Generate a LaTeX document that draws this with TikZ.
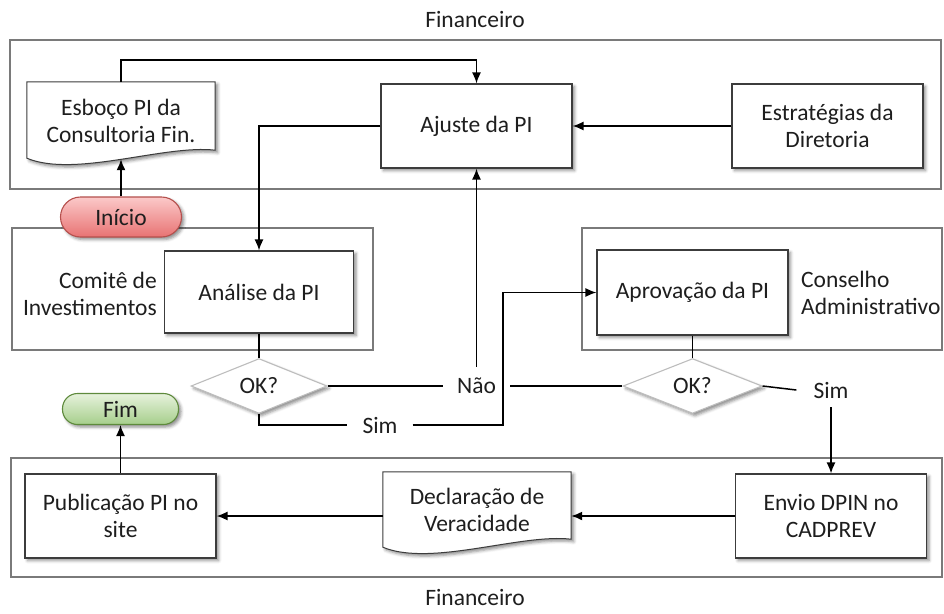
\documentclass[tikz,border=0pt]{standalone}
\usepackage{fontspec}
\setmainfont{Carlito}
\usetikzlibrary{arrows.meta,shapes.geometric,shadows.blur,calc}
\definecolor{lanecol}{HTML}{7A7A7A}
\definecolor{boxcol}{HTML}{3C3C3C}
\definecolor{diacol}{HTML}{BDBDBD}
\definecolor{txtcol}{HTML}{1E1E1E}
\definecolor{startfillA}{HTML}{FBC9C9}
\definecolor{startfillB}{HTML}{E87373}
\definecolor{startline}{HTML}{B5504D}
\definecolor{endfillA}{HTML}{E6F2DC}
\definecolor{endfillB}{HTML}{A6CE8B}
\definecolor{endline}{HTML}{5E8A3C}

% document outline with a wavy bottom edge around a named node
\newcommand{\docoutline}[1]{%
  \path[draw=boxcol, line width=1pt, fill=white, softshadow]
    (#1.north west) -- (#1.north east)
    -- ($(#1.south east)+(0,-9)$)
    .. controls ($(#1.south east)+(-50,-15)$) and ($(#1.south west)+(48,19)$) ..
    ($(#1.south west)+(0,-1)$) -- cycle;}

\begin{document}
\begin{tikzpicture}[x=1pt, y=-1pt,
  font=\fontsize{23.5}{27}\selectfont, text=txtcol,
  softshadow/.style={blur shadow={shadow xshift=2.5pt, shadow yshift=-2.5pt,
      shadow blur radius=3pt, shadow opacity=45}},
  lane/.style={draw=lanecol, line width=1.3pt},
  procbox/.style={draw=boxcol, line width=1.1pt, fill=white, align=center,
      inner sep=2pt, minimum width=191pt, minimum height=84pt, softshadow},
  docbox/.style={align=center, inner sep=2pt, minimum width=188pt},
  decision/.style={diamond, draw=diacol, line width=1.1pt, fill=white,
      inner sep=0pt, softshadow},
  terminal/.style={rectangle, line width=1.1pt, align=center, inner sep=0pt},
  lanelabel/.style={align=center, inner sep=0pt},
  flowlabel/.style={inner xsep=14pt, inner ysep=11pt},
  arr/.style={draw=black, line width=1.5pt, -{Latex[length=11pt,width=9pt]}},
  link/.style={draw=black, line width=1.5pt}]

\useasboundingbox (0,0) rectangle (944,613);

% swimlanes
\draw[lane] (10,40) rectangle (941,189);
\draw[lane] (12,228) rectangle (373,350);
\draw[lane] (582,228) rectangle (942,350);
\draw[lane] (11,458) rectangle (942,577);

\node[lanelabel] (lanetop) at (475,20) {Financeiro};
\node[lanelabel] (lanebot) at (475,597) {Financeiro};
\node[lanelabel, align=right, anchor=east] (lanecomite) at (157,294) {Comitê de\\Investimentos};
\node[lanelabel, align=left, anchor=west] (laneconselho) at (801,293) {Conselho\\Administrativo};

% financial lane (top)
\node[docbox, minimum height=77pt] (esboco) at (121,120.5) {Esboço PI da\\Consultoria Fin.};
\docoutline{esboco}
\node[docbox, minimum height=77pt] (esbocotext) at (121,120.5) {Esboço PI da\\Consultoria Fin.};
\node[procbox] (ajuste) at (476.5,126) {Ajuste da PI};
\node[procbox] (estrat) at (827.5,126) {Estratégias da\\Diretoria};

% committee and board
\node[procbox, minimum width=189pt, minimum height=82pt] (analise) at (259,292) {Análise da PI};
\node[procbox, minimum height=85pt] (aprov) at (692.5,292.5) {Aprovação da PI};

% decisions
\node[decision, minimum width=136pt, minimum height=52pt] (d1) at (259,386) {OK?};
\node[decision, minimum width=139pt, minimum height=53pt] (d2) at (692.5,386) {OK?};

% start / end terminals
\node[terminal, draw=startline, top color=startfillA, bottom color=startfillB,
      rounded corners=20pt, minimum width=121pt, minimum height=40pt, softshadow] (inicio) at (121,217) {Início};
\node[terminal, draw=endline, top color=endfillA, bottom color=endfillB,
      rounded corners=15pt, minimum width=116pt, minimum height=31pt, softshadow] (fim) at (120.5,409) {Fim};

% financial lane (bottom)
\node[procbox] (publ) at (120.5,516) {Publicação PI no\\site};
\node[docbox, minimum height=76pt] (decl) at (477,510) {Declaração de\\Veracidade};
\docoutline{decl}
\node[docbox, minimum height=76pt] (decltext) at (477,510) {Declaração de\\Veracidade};
\node[procbox] (envio) at (831,516) {Envio DPIN no\\CADPREV};

% branch labels
\node[flowlabel] (nao) at (476.5,386) {Não};
\node[flowlabel, inner xsep=15pt] (sim1) at (380,425) {Sim};
\node[flowlabel, inner xsep=17pt, inner ysep=9pt] (sim2) at (831,390) {Sim};
\coordinate (j1) at (503,425);

% connectors
\draw[arr] (inicio.north) -- (esboco.south);
\draw[arr] (esboco.north) -- ++(0,-22) -| (ajuste.north);
\draw[arr] (estrat.west) -- (ajuste.east);
\draw[arr] (ajuste.west) -| (analise.north);
\draw[link] (analise.south) -- (d1.north);
\draw[link] (d1.east) -- (nao.west);
\draw[link] (nao.east) -- (d2.west);
\draw[arr] (nao.north) -- (ajuste.south);
\draw[link] (d1.south) |- (sim1.west);
\draw[arr] (sim1.east) -- (j1) |- (aprov.west);
\draw[link] (aprov.south) -- (d2.north);
\draw[link] (d2.east) -- (sim2.west);
\draw[arr] (sim2.south) -- (envio.north);
\draw[arr] (envio.west) -- (envio.west -| decl.east);
\draw[arr] (decl.west |- publ.east) -- (publ.east);
\draw[arr] (publ.north) -- (fim.south);
\end{tikzpicture}
\end{document}
